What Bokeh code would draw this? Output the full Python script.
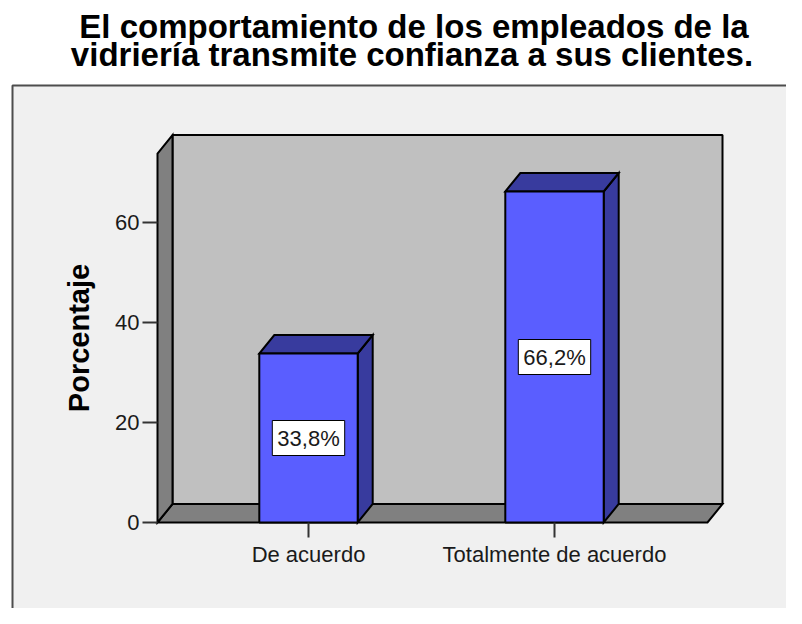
from bokeh.plotting import figure
from bokeh.models import LinearAxis, FixedTicker, Range1d, ColumnDataSource
from bokeh.core.properties import value
from bokeh.embed import file_html
from bokeh.resources import INLINE

# ---- data ----
categories = ["De acuerdo", "Totalmente de acuerdo"]
percent = [33.8, 66.2]
value_labels = ["33,8%", "66,2%"]
y_ticks = [0, 20, 40, 60]
title_lines = ["El comportamiento de los empleados de la",
               "vidriería transmite confianza a sus clientes."]

# ---- layout helpers (pixel -> data) ----
W, H = 786, 608
OFF = 0
SX, SY = 246.0, 5.0
X0 = 1 - (308 - OFF) / SX
X1 = X0 + W / SX
Y1 = (522 - OFF) / SY
Y0 = Y1 - H / SY

def X(px):
    return X0 + (px - OFF) / SX

def Y(py):
    return Y1 - (py - OFF) / SY

FONT = value("Liberation Sans")
pos = [i + 1 for i in range(len(categories))]
BW = 0.4
DX = 15 / SX
DY = 3.7
XL = X(157)
XR = X(707)
Y_TOP = 73.8

p = figure(width=W, height=H, x_range=Range1d(X0, X1), y_range=Range1d(Y0, Y1),
           output_backend="svg", toolbar_location=None, title=None,
           x_axis_location=None, y_axis_location=None, min_border=0,
           outline_line_color=None, background_fill_color="white",
           border_fill_color="white")
p.grid.visible = False

# outer panel
p.quad(left=[X(12)], right=[X(900)], top=[Y(85)], bottom=[Y(700)],
       fill_color="#f0f0f0", line_color="#4d4d4d", line_width=2)

# back wall
p.quad(left=[XL + DX], right=[XR + DX], bottom=[DY], top=[Y_TOP + DY],
       fill_color="#c0c0c0", line_color="black", line_width=2)
# floor
p.patch(x=[XL, XR, XR + DX, XL + DX], y=[0, 0, DY, DY],
        fill_color="#808080", line_color="black", line_width=2, line_join="miter")
# left wall
p.patch(x=[XL, XL, XL + DX, XL + DX], y=[0, Y_TOP, Y_TOP + DY, DY],
        fill_color="#808080", line_color="black", line_width=2, line_join="miter")

# bars: side and top faces
side_xs, side_ys, top_xs, top_ys = [], [], [], []
for xc, v in zip(pos, percent):
    l, r = xc - BW / 2, xc + BW / 2
    side_xs.append([r, r, r + DX, r + DX])
    side_ys.append([0, v, v + DY, DY])
    top_xs.append([l, r, r + DX, l + DX])
    top_ys.append([v, v, v + DY, v + DY])
p.patches(xs=side_xs, ys=side_ys, fill_color="#383b9e", line_color="black",
          line_width=2, line_join="miter")
p.patches(xs=top_xs, ys=top_ys, fill_color="#383b9e", line_color="black",
          line_width=2, line_join="miter")
p.vbar(x=pos, top=percent, bottom=0, width=BW, fill_color="#5a5eff",
       line_color="black", line_width=2)

# value labels
src = ColumnDataSource(dict(x=pos, y=[v / 2 for v in percent], text=value_labels))
p.text(x="x", y="y", text="text", source=src, anchor="center",
       text_align="center", text_baseline="middle", text_font=FONT,
       text_font_size="22px", text_color="#1a1a1a",
       background_fill_color="white", border_line_color="black",
       border_line_width=1, padding=5)

# title
p.text(x=[X(413.5), X(411.5)], y=[Y(26), Y(54)], text=title_lines,
       text_align="center", text_baseline="alphabetic", text_font=FONT,
       text_font_size="33px", text_font_style="bold", text_color="black")

# axes
yaxis = LinearAxis(fixed_location=XL, ticker=FixedTicker(ticks=y_ticks),
                   bounds=(0, Y_TOP), axis_label="Porcentaje")
yaxis.axis_line_color = None
yaxis.major_tick_in = 0
yaxis.major_tick_out = 15
yaxis.minor_tick_line_color = None
yaxis.major_tick_line_color = "#333333"
yaxis.major_tick_line_width = 2
yaxis.major_label_standoff = 3
yaxis.major_label_text_font = "Liberation Sans"
yaxis.major_label_text_font_size = "22px"
yaxis.major_label_text_color = "#1a1a1a"
yaxis.axis_label_text_font = "Liberation Sans"
yaxis.axis_label_text_font_size = "29px"
yaxis.axis_label_text_font_style = "bold"
yaxis.axis_label_text_color = "black"
yaxis.axis_label_standoff = 17
p.add_layout(yaxis, "left")

xaxis = LinearAxis(fixed_location=0, ticker=FixedTicker(ticks=pos),
                   bounds=(XL, XR))
xaxis.major_label_overrides = {k: c for k, c in zip(pos, categories)}
xaxis.axis_line_color = None
xaxis.major_tick_in = 0
xaxis.major_tick_out = 15
xaxis.minor_tick_line_color = None
xaxis.major_tick_line_color = "#333333"
xaxis.major_tick_line_width = 2
xaxis.major_label_standoff = 4
xaxis.major_label_text_font = "Liberation Sans"
xaxis.major_label_text_font_size = "22px"
xaxis.major_label_text_color = "#1a1a1a"
p.add_layout(xaxis, "below")

open("out.html", "w").write(file_html(p, INLINE))
